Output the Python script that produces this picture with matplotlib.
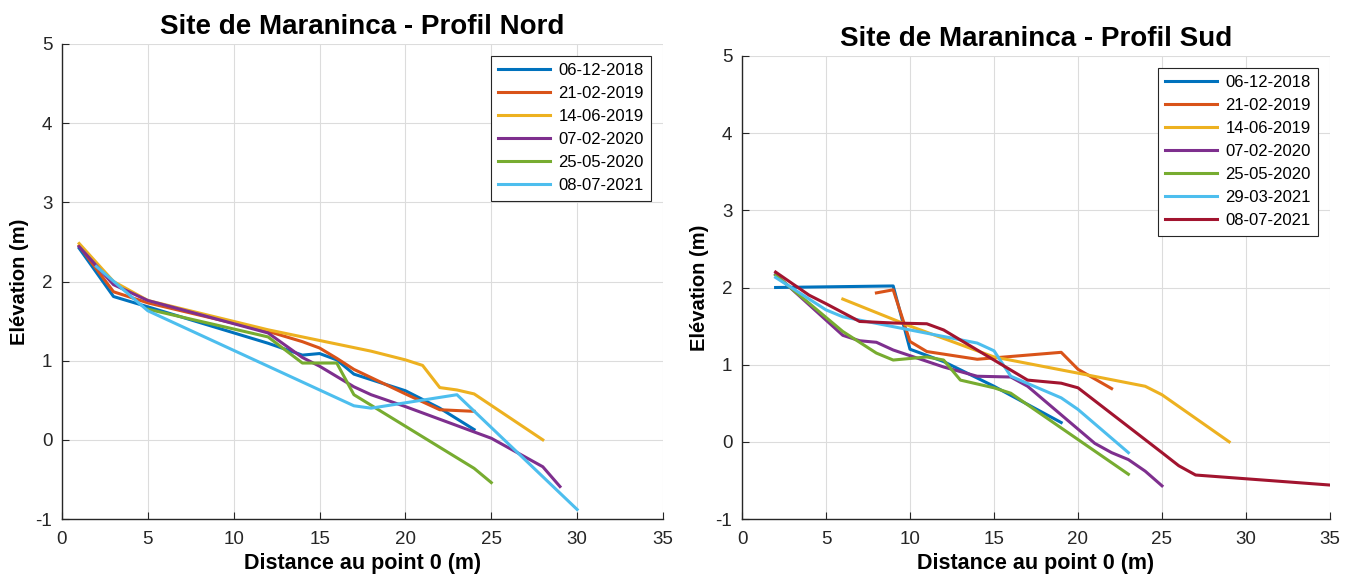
import matplotlib
matplotlib.use("Agg")
import matplotlib.pyplot as plt

plt.rcParams['font.family'] = ['Liberation Sans', 'DejaVu Sans']
plt.rcParams['axes.unicode_minus'] = False

# ---------------- Profil Nord ----------------
nord_labels = ['06-12-2018', '21-02-2019', '14-06-2019', '07-02-2020', '25-05-2020', '08-07-2021']
nord_x_0612_2018 = [1, 3, 5, 12, 14, 15, 16, 17, 20, 22, 24]
nord_y_0612_2018 = [2.42, 1.81, 1.68, 1.22, 1.07, 1.09, 1.01, 0.83, 0.62, 0.40, 0.13]
nord_x_2102_2019 = [1, 3, 5, 12, 14, 15, 16, 17, 20, 22, 24]
nord_y_2102_2019 = [2.45, 1.87, 1.73, 1.37, 1.24, 1.16, 1.03, 0.89, 0.58, 0.38, 0.36]
nord_x_1406_2019 = [1, 3, 5, 12, 18, 20, 21, 22, 23, 24, 28]
nord_y_1406_2019 = [2.48, 2.00, 1.76, 1.39, 1.12, 1.01, 0.94, 0.66, 0.63, 0.58, 0.00]
nord_x_0702_2020 = [1, 3, 5, 12, 14, 15, 17, 18, 20, 25, 28, 29]
nord_y_0702_2020 = [2.44, 1.96, 1.76, 1.35, 1.04, 0.93, 0.67, 0.57, 0.42, 0.02, -0.34, -0.59]
nord_x_2505_2020 = [5, 12, 14, 16, 17, 24, 25]
nord_y_2505_2020 = [1.65, 1.30, 0.97, 0.97, 0.57, -0.36, -0.54]
nord_x_0807_2021 = [2, 5, 17, 18, 23, 30]
nord_y_0807_2021 = [2.19, 1.63, 0.43, 0.40, 0.57, -0.88]

# ---------------- Profil Sud ----------------
sud_labels = ['06-12-2018', '21-02-2019', '14-06-2019', '07-02-2020', '25-05-2020', '29-03-2021', '08-07-2021']
sud_x_0612_2018 = [2, 9, 10, 12, 15, 19]
sud_y_0612_2018 = [2.00, 2.02, 1.20, 1.04, 0.72, 0.25]
sud_x_2102_2019 = [8, 9, 10, 11, 14, 19, 20, 22]
sud_y_2102_2019 = [1.93, 1.97, 1.30, 1.17, 1.07, 1.16, 0.94, 0.69]
sud_x_1406_2019 = [6, 10, 15, 20, 24, 25, 29]
sud_y_1406_2019 = [1.85, 1.50, 1.10, 0.89, 0.72, 0.61, 0.00]
sud_x_0702_2020 = [2, 6, 7, 8, 9, 12, 14, 16, 17, 21, 22, 23, 24, 25]
sud_y_0702_2020 = [2.17, 1.38, 1.31, 1.29, 1.19, 0.97, 0.85, 0.84, 0.72, -0.02, -0.14, -0.23, -0.38, -0.57]
sud_x_2505_2020 = [2, 6, 8, 9, 11, 12, 13, 15, 16, 23]
sud_y_2505_2020 = [2.16, 1.43, 1.15, 1.06, 1.10, 1.06, 0.80, 0.70, 0.63, -0.42]
sud_x_2903_2021 = [2, 5, 6, 10, 14, 15, 16, 19, 20, 23]
sud_y_2903_2021 = [2.13, 1.71, 1.62, 1.45, 1.28, 1.18, 0.85, 0.57, 0.42, -0.14]
sud_x_0807_2021 = [2, 4, 5, 7, 9, 11, 12, 17, 19, 20, 25, 26, 27, 35]
sud_y_0807_2021 = [2.20, 1.90, 1.79, 1.56, 1.54, 1.53, 1.45, 0.80, 0.76, 0.70, -0.14, -0.31, -0.43, -0.56]

matlab_colors = ['#0072BD', '#D95319', '#EDB120', '#7E2F8E', '#77AC30', '#4DBEEE', '#A2142F']

x_ticks = [0, 5, 10, 15, 20, 25, 30, 35]
y_ticks = [-1, 0, 1, 2, 3, 4, 5]

nord_series = [
    (nord_x_0612_2018, nord_y_0612_2018),
    (nord_x_2102_2019, nord_y_2102_2019),
    (nord_x_1406_2019, nord_y_1406_2019),
    (nord_x_0702_2020, nord_y_0702_2020),
    (nord_x_2505_2020, nord_y_2505_2020),
    (nord_x_0807_2021, nord_y_0807_2021),
]
nord_colors = matlab_colors[:6]

sud_series = [
    (sud_x_0612_2018, sud_y_0612_2018),
    (sud_x_2102_2019, sud_y_2102_2019),
    (sud_x_1406_2019, sud_y_1406_2019),
    (sud_x_0702_2020, sud_y_0702_2020),
    (sud_x_2505_2020, sud_y_2505_2020),
    (sud_x_2903_2021, sud_y_2903_2021),
    (sud_x_0807_2021, sud_y_0807_2021),
]
sud_colors = matlab_colors[:7]

fig = plt.figure(figsize=(13.54, 5.81), dpi=100)
ax1 = fig.add_axes([62/1354, 1-519/581, (663-62)/1354, (519-44)/581])
ax2 = fig.add_axes([742/1354, 1-519/581, (1330-742)/1354, (519-56)/581])


def style(ax, title):
    ax.set_xlim(0, 35)
    ax.set_ylim(-1, 5)
    ax.set_xticks(x_ticks)
    ax.set_yticks(y_ticks)
    ax.grid(True, color='#dcdcdc', linewidth=0.8)
    ax.set_axisbelow(True)
    for s in ['top', 'right']:
        ax.spines[s].set_visible(False)
    for s in ['left', 'bottom']:
        ax.spines[s].set_color('#262626')
        ax.spines[s].set_linewidth(1.0)
    ax.tick_params(direction='in', length=5, colors='#262626', labelsize=13.5)
    ax.tick_params(axis='x', pad=9)
    ax.tick_params(axis='y', pad=7)
    ax.set_title(title, fontsize=20, fontweight='bold', pad=7)
    ax.set_xlabel('Distance au point 0 (m)', fontsize=15.5, fontweight='bold', labelpad=3)
    ax.set_ylabel('Elévation (m)', fontsize=14.5, fontweight='bold', labelpad=5)


for (xs, ys), lab, c in zip(nord_series, nord_labels, nord_colors):
    ax1.plot(xs, ys, color=c, linewidth=2.2, label=lab)
for (xs, ys), lab, c in zip(sud_series, sud_labels, sud_colors):
    ax2.plot(xs, ys, color=c, linewidth=2.2, label=lab)

style(ax1, 'Site de Maraninca - Profil Nord')
style(ax2, 'Site de Maraninca - Profil Sud')

for ax in (ax1, ax2):
    leg = ax.legend(loc='upper right', fontsize=12, fancybox=False, framealpha=1,
                    edgecolor='#262626', handlelength=3.1, borderaxespad=0.7,
                    labelspacing=0.48, handletextpad=0.5, borderpad=0.45)
    leg.get_frame().set_linewidth(0.8)

fig.savefig('out.png', dpi=100)
